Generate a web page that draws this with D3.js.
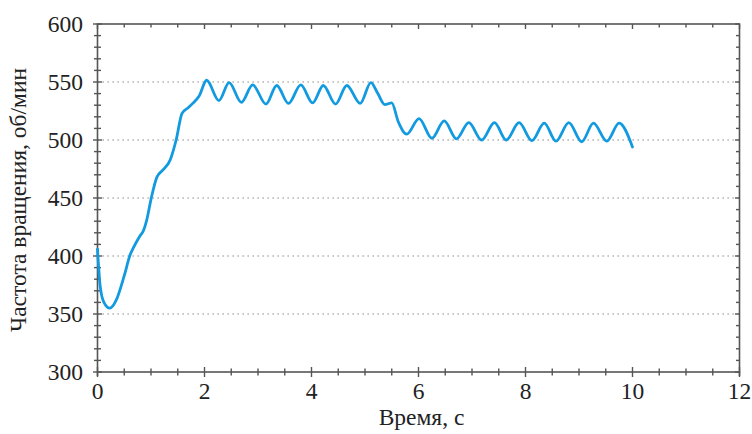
<!DOCTYPE html>
<html><head><meta charset="utf-8">
<script src="https://cdn.jsdelivr.net/npm/d3@7"></script>
<style>body{margin:0;background:#fff}svg{display:block}</style>
</head><body><svg id="c" width="752" height="434"></svg>
<script>
const timeS = [0,0.05,0.12,0.23,0.35,0.5,0.61,0.67,0.79,0.86,0.92,1.01,1.11,1.22,1.36,1.47,1.58,1.7,1.79,1.9,2.04,2.27,2.46,2.69,2.90,3.15,3.35,3.57,3.80,4.02,4.22,4.45,4.66,4.91,5.11,5.24,5.37,5.50,5.62,5.78,6.01,6.25,6.48,6.71,6.94,7.18,7.42,7.64,7.88,8.12,8.35,8.57,8.81,9.05,9.27,9.52,9.75,10.0];
const rpm   = [406,374,360,355,362,383,401,407,417,422,431,451,468,474,483,500,523,528,532,538,551.5,534,549.5,532.5,547.5,531,547,531.5,547.5,532,547,531,547,531.5,549.5,540,530.5,532,516,505,518.5,501.5,516.5,501,515,500,515,500,515,499.5,514.5,499,515,498.5,514.5,499,514.5,494];
const xTicks = [0,2,4,6,8,10,12];
const yTicks = [300,350,400,450,500,550,600];
const gridVals = [350,400,450,500,550];

const svg = d3.select("#c");
const L=97.5,R=739.5,T=24,B=372;
const x = d3.scaleLinear().domain([0,12]).range([L,R]);
const y = d3.scaleLinear().domain([300,600]).range([B,T]);
const axisCol="#555";
const font="'Liberation Serif','Times New Roman',serif";

svg.append("g").selectAll("line").data(gridVals).join("line")
  .attr("x1",L).attr("x2",R).attr("y1",d=>y(d)).attr("y2",d=>y(d))
  .attr("stroke","#777").attr("stroke-width",1.2).attr("stroke-dasharray","1.3,3.7");

const minorX = d3.range(0,12.01,0.5);
const minorY = d3.range(300,600.1,10);
const g = svg.append("g").attr("stroke",axisCol).attr("stroke-width",1.4);
g.selectAll(".bx").data(minorX).join("line")
  .attr("x1",d=>x(d)).attr("x2",d=>x(d))
  .attr("y1",d=>B-(d%2===0?5:3.5)).attr("y2",d=>B+(d%2===0?5:3.5));
g.selectAll(".tx").data(minorX).join("line")
  .attr("x1",d=>x(d)).attr("x2",d=>x(d))
  .attr("y1",T).attr("y2",d=>T+(d%2===0?5:3.5));
g.selectAll(".ly").data(minorY).join("line")
  .attr("y1",d=>y(d)).attr("y2",d=>y(d))
  .attr("x1",d=>L-(d%50===0?4.5:3.5)).attr("x2",d=>L+(d%50===0?4.5:3.5));
g.selectAll(".ry").data(minorY).join("line")
  .attr("y1",d=>y(d)).attr("y2",d=>y(d))
  .attr("x1",R).attr("x2",d=>R-(d%50===0?4.5:3.5));
svg.append("rect").attr("x",L).attr("y",T).attr("width",R-L).attr("height",B-T)
  .attr("fill","none").attr("stroke",axisCol).attr("stroke-width",1.6);
svg.append("line").attr("x1",L).attr("x2",L).attr("y1",B).attr("y2",B+4).attr("stroke",axisCol).attr("stroke-width",1.6);
svg.append("line").attr("x1",R).attr("x2",R).attr("y1",B).attr("y2",B+4).attr("stroke",axisCol).attr("stroke-width",1.6);

const line = d3.line().x((d,i)=>x(timeS[i])).y(d=>y(d)).curve(d3.curveMonotoneX);
svg.append("path").attr("d",line(rpm)).attr("fill","none")
  .attr("stroke","#129ae0").attr("stroke-width",2.8).attr("stroke-linejoin","round").attr("stroke-linecap","round");

svg.append("g").selectAll("text").data(xTicks).join("text")
  .attr("x",d=>x(d)).attr("y",399).attr("text-anchor","middle")
  .attr("font-family",font).attr("font-size",23.5).attr("fill","#222").text(d=>d);
svg.append("g").selectAll("text").data(yTicks).join("text")
  .attr("x",83).attr("y",d=>y(d)).attr("dy","0.35em").attr("text-anchor","end")
  .attr("font-family",font).attr("font-size",23.5).attr("fill","#222").text(d=>d);

svg.append("text").attr("x",(L+R)/2+3).attr("y",425).attr("text-anchor","middle")
  .attr("font-family",font).attr("font-size",23.5).attr("fill","#222").text("Время, с");
svg.append("text").attr("transform","translate(26,200) rotate(-90)").attr("text-anchor","middle")
  .attr("font-family",font).attr("font-size",23.5).attr("fill","#222").text("Частота вращения, об/мин");
</script></body></html>
